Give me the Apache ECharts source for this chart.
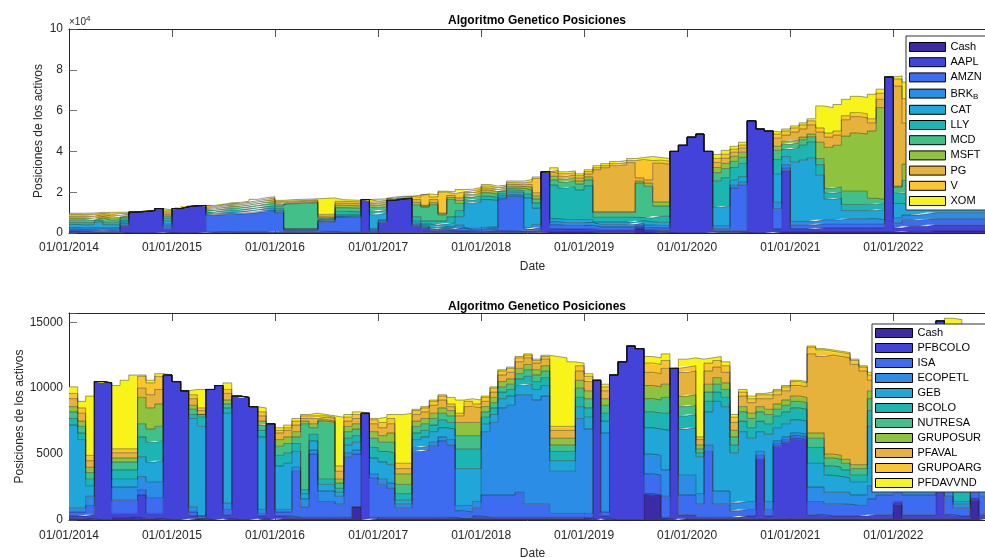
<!DOCTYPE html>
<html>
<head>
<meta charset="utf-8">
<script src="https://cdn.jsdelivr.net/npm/echarts@6/dist/echarts.min.js"></script>
<style>
  html, body { margin: 0; padding: 0; background: #fff; }
  #chart { width: 985px; height: 558px; }
</style>
</head>
<body>
<div id="chart"></div>
<script>
// Monthly rebalancing dates, Jan 2014 .. Dec 2022
const months = [];
for (let y = 2014; y <= 2022; y++) {
  for (let m = 1; m <= 12; m++) months.push(y + '-' + String(m).padStart(2, '0') + '-01');
}

// ---- US portfolio: position value per asset (USD), one row per year ----
const usNames = ['Cash', 'AAPL', 'AMZN', 'BRK_B', 'CAT', 'LLY', 'MCD', 'MSFT', 'PG', 'V', 'XOM'];
const cashUS = [
  400,300,200,300,200,300,200,0,0,0,0,300,
  0,0,0,0,200,100,100,100,100,100,100,100,
  200,200,200,200,200,300,300,200,200,200,300,300,
  200,200,200,200,300,300,200,200,200,200,200,200,
  200,300,200,200,200,200,200,500,500,500,500,500,
  500,400,400,400,400,400,2000,500,300,300,0,0,
  0,0,0,300,300,300,300,0,0,0,500,500,
  500,500,500,500,500,500,500,500,500,500,500,500,
  500,800,800,800,1000,1000,1000,1000,1000,1000,1000,1000];
const aapl = [
  600,500,400,300,500,400,3000,10300,10600,11000,12000,1500,
  12000,12900,13400,13500,500,600,500,400,400,400,400,400,
  500,500,500,500,500,500,500,400,400,400,16100,400,
  5000,15800,16500,16800,3000,2000,1000,1200,800,800,800,700,
  800,800,800,800,800,900,1000,29500,1500,1400,1400,1400,
  1400,1200,1200,1200,1200,1200,1000,1000,1000,1000,40000,43000,
  47000,48500,40000,800,800,800,800,55000,51000,50000,1500,30000,
  1500,1500,1500,2000,2000,2000,2000,2000,2000,2000,2000,76000,
  2000,2500,2500,2500,3000,3000,3000,3000,3000,3000,3000,3000];
const amzn = [
  900,800,900,600,800,700,800,0,0,0,0,1500,
  0,0,0,0,8000,8300,8600,8800,9000,9500,10000,10300,
  9000,600,600,600,600,4500,4600,7200,7100,7000,0,600,
  600,0,0,0,800,800,800,1000,900,1500,800,900,
  1000,900,15400,17000,16800,800,1500,0,2000,1800,1800,1800,
  1800,1400,1400,1400,1400,1400,1000,1200,1200,1200,0,0,
  0,0,0,1000,1000,21000,22500,0,0,0,10000,1500,
  2000,2000,2000,2000,2000,2000,2000,2000,2000,2000,2000,0,
  2500,3000,3000,3500,3000,3000,3000,3000,3000,3000,3000,3000];
const brkB = [
  800,1000,1100,1200,1000,1100,900,0,0,0,0,1200,
  0,0,0,0,300,400,400,400,500,500,600,600,
  500,300,300,300,300,600,600,500,500,500,0,700,
  600,0,0,0,700,600,700,800,1000,1500,800,900,
  900,900,700,800,800,800,1500,0,1500,1400,1400,1400,
  1400,1200,1200,1200,1200,1200,1000,1200,1200,1200,0,0,
  0,0,0,1500,1500,1500,1500,0,0,0,3000,1500,
  1700,1700,1700,2000,2000,2000,2500,2500,2500,2500,2000,0,
  2500,2500,2500,2500,3000,3000,3000,3000,3000,3000,3000,3000];
const cat = [
  1500,1400,1500,2900,1600,1500,1000,0,0,0,0,1500,
  0,0,0,0,600,700,800,800,900,900,1000,1000,
  900,300,300,300,300,400,400,700,700,700,0,7000,
  3500,0,0,0,1000,700,1200,1200,2000,4000,12000,12500,
  13500,13000,1200,1200,1300,14500,8000,0,1500,1500,1500,1500,
  1500,1200,1200,1200,1200,1200,1000,1500,1500,1500,0,0,
  0,0,0,9000,9500,2500,2500,0,0,0,14000,4000,
  29000,30000,31000,22000,10000,10500,4000,4000,4000,4000,5000,0,
  7000,5000,5000,5500,5000,5000,5000,5500,5000,5000,5000,5500];
const lly = [
  1000,1100,1000,900,1100,1300,900,0,0,0,0,1200,
  0,0,0,0,700,800,900,900,1000,1000,1000,1100,
  1000,300,300,300,300,300,300,1600,1600,1500,0,1500,
  1400,0,0,0,2200,1500,2000,1500,3000,3000,1500,1500,
  1600,1500,1000,1000,1000,2000,2500,0,16500,15500,16000,14500,
  16500,2300,2300,2300,2300,2300,1500,2000,3000,3000,0,0,
  0,0,0,13000,14000,6000,6500,0,0,0,7000,3500,
  7000,7500,8000,5000,3000,3000,3000,3000,3000,3000,3000,0,
  5000,6000,6000,6500,6000,5500,5500,6000,5500,5500,5500,5500];
const mcd = [
  1100,1200,1300,1100,1200,1300,1000,0,0,0,0,1000,
  0,0,0,0,800,900,1000,1000,1000,1100,1100,1200,
  1100,12100,12300,12400,12600,600,600,1800,1800,1800,0,2000,
  1600,0,0,0,5800,6800,8000,3000,8500,3500,1500,1600,
  1700,1600,1000,1000,1000,1800,2000,0,2500,2900,2900,2900,
  2900,2300,2300,2300,2300,2300,17000,15500,5000,5000,0,0,
  0,0,0,4000,4500,3000,3000,0,0,0,4500,2500,
  2500,2500,2500,3000,2500,2500,6500,6500,6500,3000,2000,0,
  3000,6000,6000,6000,5500,5000,5500,5500,5500,5000,5500,5500];
const msft = [
  1000,900,1000,800,1000,1100,800,0,0,0,0,800,
  0,0,0,0,700,700,800,800,800,900,900,900,
  800,300,300,300,300,300,300,1200,1200,1200,0,1200,
  1200,0,0,0,1200,500,1000,500,1000,1500,1200,1300,
  1300,1300,900,900,900,1500,1500,0,1800,1500,1500,1500,
  1500,500,500,500,500,500,1000,1600,2000,2000,0,0,
  0,0,0,2500,2500,2500,2500,0,0,0,2000,1500,
  1300,1300,1300,8000,20000,20500,27000,28500,28000,33000,45000,0,
  500,8000,8000,8000,7000,6500,7000,7000,6500,6500,7000,7000];
const pg = [
  900,1000,900,800,1000,900,700,0,0,0,0,900,
  0,0,0,0,600,600,700,700,700,800,800,800,
  800,600,600,600,600,800,800,1000,1000,1000,0,1000,
  1000,600,500,500,1400,400,1500,400,1000,1200,1000,1000,
  1000,1000,900,900,900,1300,1500,0,1500,1400,1400,1400,
  1400,20500,21500,22500,23000,24000,1500,1500,19000,18500,0,0,
  0,0,0,2500,2500,2000,2000,0,0,0,4000,3000,
  4000,4000,4500,5000,5000,5000,8000,8000,8000,4000,4000,0,
  49000,20000,19000,19000,18000,17000,17000,17500,17000,16500,17000,17000];
const visa = [
  900,800,900,700,900,900,500,0,0,0,0,900,
  0,0,0,0,600,500,600,600,600,700,700,700,
  600,500,500,500,500,800,800,900,900,900,0,900,
  900,500,500,400,1200,5200,1300,10200,1000,3000,900,900,
  1000,900,800,900,900,1300,7000,0,1400,1200,1200,1200,
  1200,1000,1000,1000,1000,1000,9000,9500,1500,1500,0,0,
  0,0,0,2000,2000,1500,1500,0,0,0,2000,2000,
  2000,2000,2000,2000,2000,2000,2000,2000,2000,2000,3000,0,
  3500,12000,11000,11000,10000,9000,10000,10000,9500,9000,9500,10000];
const xom = [
  600,700,600,500,800,700,400,0,0,0,0,500,
  0,0,0,0,500,400,400,500,500,600,700,700,
  600,600,600,600,600,7900,8000,800,800,800,0,1000,
  800,500,300,200,900,400,1100,500,800,1100,800,800,
  800,800,600,800,900,1100,800,0,1300,900,900,900,
  900,1000,1000,1000,1000,1000,1000,2000,1300,1300,0,0,
  0,0,0,1900,1900,1400,1400,0,0,0,1000,1000,
  1000,1000,1000,10800,12500,13000,8000,8000,8000,12000,2000,0,
  1500,8200,8200,7700,6500,6000,6000,6500,6000,5500,6500,6500];

// ---- Colombian portfolio: position value per asset, one row per year ----
const coNames = ['Cash', 'PFBCOLO', 'ISA', 'ECOPETL', 'GEB', 'BCOLO', 'NUTRESA', 'GRUPOSUR', 'PFAVAL', 'GRUPOARG', 'PFDAVVND'];
const cashCO = [
  100,100,100,0,0,200,200,200,100,100,100,0,
  0,0,100,100,0,0,100,0,0,0,100,0,
  100,100,100,100,100,100,100,100,100,1000,0,100,
  100,100,100,100,100,100,100,100,100,100,100,100,
  100,100,100,100,100,100,100,100,100,100,100,100,
  100,0,100,0,0,0,0,1900,1800,100,0,100,
  100,100,100,100,100,100,100,100,100,100,100,100,
  100,100,100,100,100,100,100,100,100,100,100,100,
  1200,100,100,100,100,100,100,100,100,1500,100,100];
const pfbcolo = [
  200,200,300,10500,10400,300,300,300,1800,400,400,11000,
  10500,9800,200,0,9900,10200,300,9400,9300,8600,200,7300,
  200,200,100,100,100,100,100,100,100,0,8100,100,
  100,100,100,100,100,100,100,100,100,0,0,200,
  100,100,100,100,100,100,100,100,100,100,100,100,
  100,10600,200,11000,12000,13200,13000,100,100,100,11500,300,
  300,100,100,100,100,100,200,200,4500,200,5500,5800,
  6100,6000,300,300,200,200,200,200,200,300,300,300,
  200,300,300,300,300,15000,300,200,200,200,300,300];
const isa = [
  300,300,700,0,0,1000,1000,1000,400,1200,1200,0,
  0,0,300,200,0,0,400,0,0,0,200,0,
  300,300,3500,800,4800,1200,1200,1000,4600,4000,0,3000,
  2500,2200,700,700,5000,5100,5400,5800,5500,600,500,600,
  1700,1700,1700,1700,1900,1000,1000,1000,300,300,300,300,
  300,0,300,0,0,0,0,1500,1500,1600,0,1500,
  1500,1000,5000,1000,1000,500,500,500,300,500,200,200,
  200,200,1000,1000,900,900,900,800,800,1200,1500,1500,
  1200,1500,1500,1500,1500,0,1400,600,600,600,1400,1400];
const ecopetl = [
  300,300,700,0,0,1000,1000,1000,1000,1200,1200,0,
  0,0,400,0,0,0,500,0,0,0,300,0,
  200,200,300,600,300,800,800,600,300,300,0,300,
  400,400,300,300,300,300,300,300,400,400,500,500,
  4800,5500,6600,6800,7400,8300,7900,8200,3200,3200,3200,7200,
  6400,0,6000,0,0,0,0,1500,1500,2000,0,1500,
  1500,800,500,1000,1000,600,600,600,300,600,200,200,
  200,200,1100,1100,900,900,900,800,800,1000,1000,1000,
  800,1000,1000,1000,1000,0,1000,300,300,300,1000,1000];
const geb = [
  6300,5200,800,0,0,600,600,600,1500,1500,1600,0,
  0,0,6700,6800,0,0,6800,0,0,0,5500,0,
  3300,3500,1200,400,700,500,500,300,600,600,0,1200,
  1300,1400,300,300,600,700,800,700,800,2800,2800,2500,
  600,600,700,700,700,800,800,800,800,800,800,900,
  900,0,900,0,0,0,0,2000,2000,3000,0,3500,
  3600,2800,2500,6800,6400,3800,5300,4800,1500,5100,1000,1000,
  1000,1000,1800,1800,1300,1200,1100,1000,1000,4500,3500,3700,
  3500,3800,4000,4100,4000,0,3700,200,200,3500,3500,3500];
const bcolo = [
  500,500,500,0,0,700,700,700,1500,1500,1500,0,
  0,0,300,700,0,0,400,0,0,0,500,0,
  800,800,600,300,500,400,400,300,500,500,0,800,
  800,900,500,500,500,500,500,600,500,1500,1500,1500,
  500,500,500,500,500,600,600,600,700,700,700,700,
  700,0,600,0,0,0,0,1200,1200,1300,0,1000,
  1000,300,800,700,700,600,800,800,800,800,900,900,
  900,900,1200,1200,700,700,600,500,500,1200,1500,1500,
  1500,1500,1500,1600,1600,0,1600,6000,5700,1500,1500,1500];
const nutresa = [
  500,500,500,0,0,600,600,600,1000,1000,1100,0,
  0,0,400,200,0,0,300,0,0,0,400,0,
  700,700,500,5000,500,4400,4300,400,500,500,0,700,
  700,800,700,700,500,500,500,500,500,1000,1000,1000,
  400,400,400,400,400,500,500,500,500,500,500,700,
  700,0,600,0,0,0,0,1000,1000,1200,0,700,
  700,300,700,600,600,600,700,700,700,700,500,500,
  500,500,700,700,600,600,500,500,500,900,1200,1200,
  1200,1200,1300,1300,1300,0,1300,2000,2000,1500,1500,1500];
const gruposur = [
  400,400,400,0,0,300,300,300,2000,1600,1700,0,
  0,0,300,0,0,0,300,0,0,0,300,0,
  500,500,400,200,300,100,100,300,400,400,0,500,
  500,700,800,800,400,400,400,400,400,1000,1000,1000,
  400,400,400,400,400,400,400,400,500,500,500,600,
  600,0,500,0,0,0,0,1000,1000,1000,0,800,
  800,300,600,500,500,500,400,400,400,400,400,400,
  400,400,400,400,300,300,300,300,300,600,800,900,
  900,900,900,1000,1000,0,1000,1500,1500,1200,1200,1200];
const pfaval = [
  600,600,500,0,0,400,400,400,700,1000,1100,0,
  0,0,500,300,0,0,500,0,0,0,400,0,
  500,500,500,200,400,200,200,600,400,400,0,600,
  600,700,400,400,500,500,600,600,300,500,1200,1100,
  400,400,500,500,500,500,500,500,600,600,600,700,
  700,0,600,0,0,0,0,1000,1000,1200,0,1800,
  1800,400,1000,800,800,600,800,800,600,800,700,700,
  800,800,6000,5800,7500,7500,7700,7600,7100,800,1500,1600,
  1800,2000,2000,2000,2000,0,2400,2000,2000,1800,1700,1700];
const grupoarg = [
  400,400,400,0,0,300,300,300,900,900,1000,0,
  0,0,300,200,0,0,300,0,0,0,300,0,
  200,200,300,200,200,100,100,400,300,300,0,300,
  400,400,400,400,300,300,300,300,200,200,400,300,
  300,300,300,300,300,200,200,200,300,300,300,400,
  400,0,300,0,0,0,0,700,700,600,0,400,
  400,200,600,500,500,400,300,300,300,300,300,300,
  300,300,500,500,300,300,300,300,300,400,800,800,
  800,900,900,900,900,0,1200,1000,1000,1000,800,800];
const pfdavvnd = [
  500,500,4500,0,0,4800,5200,5600,100,200,200,0,
  0,0,400,1400,0,0,500,0,0,0,300,0,
  200,200,200,100,200,100,100,3700,200,200,0,100,
  400,300,3700,3800,100,100,100,100,500,1000,200,300,
  100,100,100,100,100,100,100,100,5300,5200,4900,200,
  200,0,200,0,0,0,0,500,500,500,0,600,
  600,5900,400,300,300,200,200,200,100,200,100,100,
  100,100,100,100,100,100,100,100,100,200,300,300,
  400,500,500,500,500,0,1300,1300,600,700,500,500];

const usColumns = [cashUS, aapl, amzn, brkB, cat, lly, mcd, msft, pg, visa, xom];
const coColumns = [cashCO, pfbcolo, isa, ecopetl, geb, bcolo, nutresa, gruposur, pfaval, grupoarg, pfdavvnd];

// y-axis ticks
const usTicks = [0, 20000, 40000, 60000, 80000, 100000];
const coTicks = [0, 5000, 10000, 15000];

const palette = ['#3D2AA5', '#4343DA', '#3D6CF0', '#2C8DE6', '#20A6D8', '#1DB5B1',
                 '#42C08A', '#8FC23E', '#E6B23B', '#FBC52F', '#F8F419'];
const FONT = '"Liberation Sans", Arial, Helvetica, sans-serif';
const AXIS = '#262626';

function stackSeries(names, columns, xIdx, yIdx, stack) {
  return names.map((name, k) => ({
    name: name,
    type: 'line',
    xAxisIndex: xIdx,
    yAxisIndex: yIdx,
    stack: stack,
    step: 'end',
    symbol: 'none',
    silent: true,
    data: months.map((d, i) => [d, columns[k][i]]),
    itemStyle: { color: palette[k] },
    areaStyle: { color: palette[k], opacity: 1 },
    lineStyle: { color: '#141414', width: 0.4 },
    emphasis: { disabled: true }
  }));
}

function dmy(v) {
  const d = new Date(v);
  if (d.getMonth() !== 0 || d.getDate() !== 1) return '';
  return '01/01/' + d.getFullYear();
}

function timeAxis(grid, pos, withLabels) {
  const YEAR = 365 * 24 * 3600 * 1000;
  return {
    type: 'time', gridIndex: grid, position: pos,
    min: '2014-01-01', max: '2022-12-31',
    minInterval: YEAR, maxInterval: YEAR,
    name: withLabels ? 'Date' : '', nameLocation: 'middle', nameGap: grid === 0 ? 28 : 28,
    nameMoveOverlap: false,
    nameTextStyle: { fontSize: 12, color: AXIS, fontFamily: FONT },
    axisLine: { show: true, lineStyle: { color: AXIS, width: 1 } },
    axisTick: { show: true, inside: true, length: 8, lineStyle: { color: AXIS, width: 0.8 } },
    axisLabel: { show: withLabels, formatter: dmy, fontSize: 12, color: AXIS, fontFamily: FONT, margin: grid === 0 ? 9 : 10, hideOverlap: false },
    splitLine: { show: false }
  };
}

function valueAxis(grid, ticks, max, gap, fmt) {
  return {
    type: 'value', gridIndex: grid, min: ticks[0], max: max, interval: ticks[1],
    name: 'Posiciones de los activos', nameLocation: 'middle', nameGap: gap,
    nameMoveOverlap: false,
    nameTextStyle: { fontSize: 12, color: AXIS, fontFamily: FONT },
    axisLine: { show: true, lineStyle: { color: AXIS, width: 1 } },
    axisTick: { show: true, inside: true, length: 8, lineStyle: { color: '#555', width: 0.8 } },
    axisLabel: { formatter: fmt, fontSize: 12, color: AXIS, fontFamily: FONT, margin: 6 },
    splitLine: { show: false }
  };
}

const legendText = {
  fontSize: 11, lineHeight: 12, color: '#000', fontFamily: FONT,
  rich: { sub: { fontSize: 8, lineHeight: 10, padding: [6, 0, 0, 0], fontFamily: FONT, color: '#000' } }
};

const chart = echarts.init(document.getElementById('chart'), null, { renderer: 'canvas' });
chart.setOption({
  animation: false,
  backgroundColor: '#fff',
  textStyle: { fontFamily: FONT },
  title: [
    { text: 'Algoritmo Genetico Posiciones', left: 532, top: 10, textAlign: 'center',
      textStyle: { fontSize: 12, fontWeight: 'bold', color: '#000', fontFamily: FONT } },
    { text: 'Algoritmo Genetico Posiciones', left: 532, top: 296, textAlign: 'center',
      textStyle: { fontSize: 12, fontWeight: 'bold', color: '#000', fontFamily: FONT } }
  ],
  grid: [
    { left: 69, width: 927, top: 29, height: 204, outerBoundsMode: 'none' },
    { left: 69, width: 927, top: 313, height: 207, outerBoundsMode: 'none' }
  ],
  xAxis: [
    timeAxis(0, 'bottom', true),
    timeAxis(0, 'top', false),
    timeAxis(1, 'bottom', true),
    timeAxis(1, 'top', false)
  ],
  yAxis: [
    valueAxis(0, usTicks, usTicks[usTicks.length - 1], 24, v => String(v / 10000)),
    valueAxis(1, coTicks, 15700, 43, v => (coTicks.indexOf(v) >= 0 ? String(v) : ''))
  ],
  legend: [
    {
      orient: 'vertical', left: 906, top: 36, data: usNames, icon: 'rect',
      itemWidth: 36, itemHeight: 9, itemGap: 3.2, padding: [5, 14, 3, 3],
      backgroundColor: '#fff', borderColor: '#333', borderWidth: 1, borderRadius: 0,
      selectedMode: false,
      formatter: n => (n === 'BRK_B' ? 'BRK{sub|B}' : n),
      textStyle: legendText,
      itemStyle: { borderColor: '#000', borderWidth: 1 }
    },
    {
      orient: 'vertical', left: 872, top: 324, data: coNames, icon: 'rect',
      itemWidth: 37, itemHeight: 9, itemGap: 3, padding: [3, 14, 3, 3],
      backgroundColor: '#fff', borderColor: '#333', borderWidth: 1, borderRadius: 0,
      selectedMode: false,
      textStyle: legendText,
      itemStyle: { borderColor: '#000', borderWidth: 1 }
    }
  ],
  graphic: [
    {
      type: 'text', left: 69, top: 15, silent: true,
      style: {
        text: '×10{e|4}', fontSize: 10, fontFamily: FONT, fill: AXIS,
        rich: { e: { fontSize: 8, fontFamily: FONT, padding: [0, 0, 7, 0] } }
      }
    }
  ],
  series: [].concat(
    stackSeries(usNames, usColumns, 0, 0, 'us'),
    stackSeries(coNames, coColumns, 2, 1, 'co')
  )
});
</script>
</body>
</html>
